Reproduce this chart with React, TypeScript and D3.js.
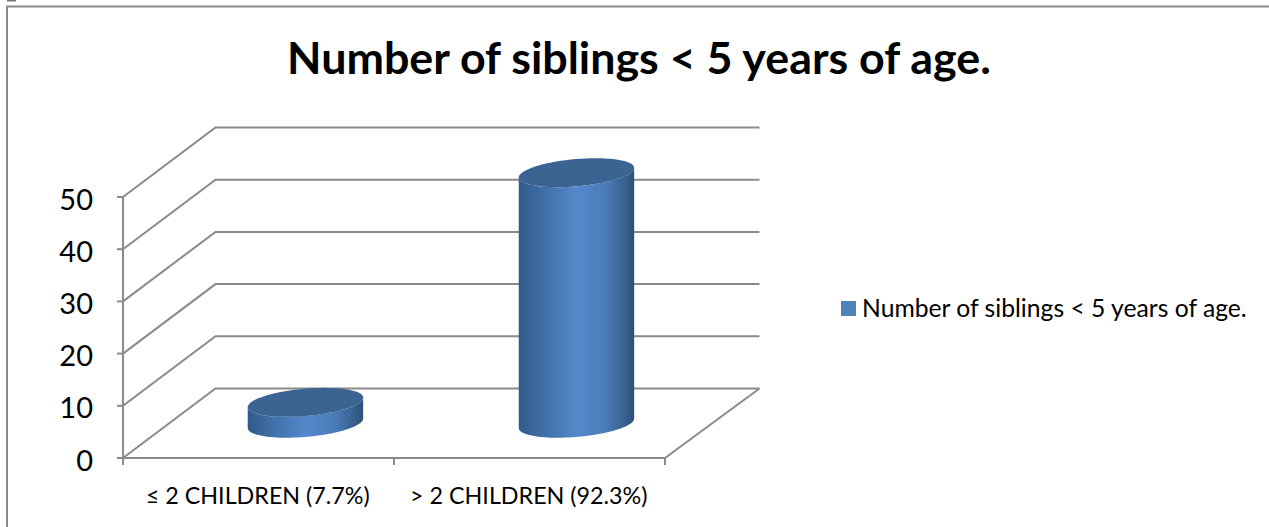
import React from "react";
import * as d3 from "d3";

const categories = ["≤ 2 CHILDREN (7.7%)", "> 2 CHILDREN (92.3%)"];
const seriesValues = [4, 48];
const yTicks = [0, 10, 20, 30, 40, 50];
const seriesName = "Number of siblings < 5 years of age.";
const chartTitle = "Number of siblings < 5 years of age.";

const WIDTH = 1269;
const HEIGHT = 527;
const GRID = "#8a8a8a";
const FONT = "Lato, 'Open Sans', sans-serif";

// Oblique projection of the 3D box: the back wall sits up and to the right.
const DEPTH_X = 92.5;
const DEPTH_Y = -69.5;

const x = d3.scaleBand<string>().domain(categories).range([123, 665]);
const y = d3.scaleLinear().domain([0, 50]).range([458, 197]);

// Cylinder footprint: a circle on the floor plane projected to a slanted ellipse.
const AXIS_X = 54.5;
const AXIS_DEPTH_X = 19;
const AXIS_DEPTH_Y = -14.5;
const CYLINDER_SHIFT = 0.7;

function ellipsePoint(cx: number, cy: number, t: number): [number, number] {
  return [
    cx + Math.cos(t) * AXIS_X + Math.sin(t) * AXIS_DEPTH_X,
    cy + Math.sin(t) * AXIS_DEPTH_Y,
  ];
}

const line = d3.line();

function ellipsePath(cx: number, cy: number) {
  return line(d3.range(0, 73).map((i) => ellipsePoint(cx, cy, (i / 72) * 2 * Math.PI))) + "Z";
}

// Body outline: lower half of the top ellipse, then back along the lower half of the base.
function bodyPath(cx: number, topY: number, baseY: number) {
  const tRight = Math.atan2(AXIS_DEPTH_X, AXIS_X);
  const tLeft = tRight + Math.PI;
  const sweep = d3.range(0, 49).map((i) => tLeft + (i / 48) * Math.PI);
  const upper = sweep.map((t) => ellipsePoint(cx, topY, t));
  const lower = sweep.slice().reverse().map((t) => ellipsePoint(cx, baseY, t));
  return line([...upper, ...lower]) + "Z";
}

export default function App() {
  const bars = categories.map((c, i) => {
    const cx = (x(c) as number) + x.bandwidth() / 2 + DEPTH_X / 2 + CYLINDER_SHIFT;
    const baseY = y(0) + DEPTH_Y / 2;
    const topY = y(seriesValues[i]) + DEPTH_Y / 2;
    return { c, cx, baseY, topY };
  });

  return (
    <svg
      width={WIDTH}
      height={HEIGHT}
      viewBox={`0 0 ${WIDTH} ${HEIGHT}`}
      style={{ position: "absolute", left: 0, top: 0, background: "#fff", fontFamily: FONT }}
    >
      <defs>
        <linearGradient id="cyl" x1="0" x2="1" y1="0" y2="0">
          <stop offset="0" stopColor="#2f5a8c" />
          <stop offset="0.2" stopColor="#3f6ea6" />
          <stop offset="0.5" stopColor="#5488cb" />
          <stop offset="0.75" stopColor="#4a7cb9" />
          <stop offset="0.92" stopColor="#38618f" />
          <stop offset="1" stopColor="#2c5078" />
        </linearGradient>
      </defs>

      {/* chart frame */}
      <rect x={7} y={0} width={9} height={1.5} fill="#777" />
      <path d={`M7 ${HEIGHT}V6.5H${WIDTH}`} fill="none" stroke={GRID} strokeWidth={2} />

      <text x={639} y={73.5} textAnchor="middle" fontSize={44.8} fontWeight={700} fill="#000">
        {chartTitle}
      </text>

      {/* walls and gridlines */}
      <g fill="none" stroke={GRID} strokeWidth={2}>
        {yTicks.map((t) => (
          <path
            key={t}
            d={`M123 ${y(t)}L${123 + DEPTH_X} ${y(t) + DEPTH_Y}H${665 + DEPTH_X + 2}`}
          />
        ))}
        <path d={`M${665} ${y(0)}L${665 + DEPTH_X + 2} ${y(0) + DEPTH_Y}`} />
        <path d={`M123 ${y(0)}H665`} />
        <path d={`M123 ${y(50)}V${y(0) + 7}`} />
        {yTicks.map((t) => (
          <path key={t} d={`M117 ${y(t)}H123`} />
        ))}
        {[123, 394, 665].map((tx) => (
          <path key={tx} d={`M${tx} ${y(0)}V${y(0) + 7}`} />
        ))}
      </g>

      {/* value axis labels */}
      {yTicks.map((t) => (
        <text key={t} x={93} y={y(t) + 12.5} textAnchor="end" fontSize={29} fill="#000">
          {t}
        </text>
      ))}

      {/* cylinders */}
      {bars.map((b) => (
        <g key={b.c}>
          <path d={bodyPath(b.cx, b.topY, b.baseY)} fill="url(#cyl)" />
          <path d={ellipsePath(b.cx, b.topY)} fill="#3c6493" />
        </g>
      ))}

      {/* category labels */}
      {categories.map((c) => (
        <text
          key={c}
          x={(x(c) as number) + x.bandwidth() / 2 - 0.7}
          y={504}
          textAnchor="middle"
          fontSize={23.3}
          fill="#000"
        >
          {c}
        </text>
      ))}

      {/* legend */}
      <rect x={841} y={301} width={15} height={15} fill="#4f81bd" />
      <text x={862} y={317} fontSize={24.7} fill="#000">
        {seriesName}
      </text>
    </svg>
  );
}
